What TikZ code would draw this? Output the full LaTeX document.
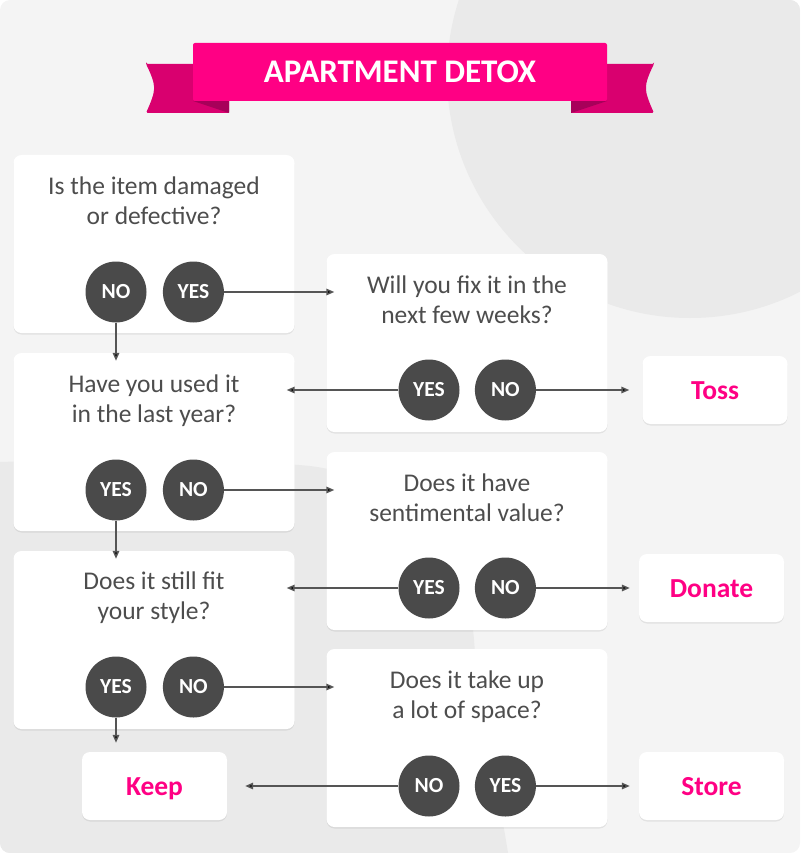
\documentclass[tikz,border=0pt]{standalone}
\usepackage{fontspec}
\setmainfont{Carlito}
\usepackage{tikz}
\usetikzlibrary{positioning}
\usetikzlibrary{arrows.meta}
\usetikzlibrary{calc,shadows}
\definecolor{pagebg}{HTML}{F4F4F4}
\definecolor{blobbg}{HTML}{EAEAEA}
\definecolor{inkgray}{HTML}{4D4D4D}
\definecolor{dotgray}{HTML}{4A4A4A}
\definecolor{linegray}{HTML}{555555}
\definecolor{detoxpink}{HTML}{FF0084}
\definecolor{ribbonend}{HTML}{D9006F}
\definecolor{ribbonfold}{HTML}{A8005A}
\tikzset{
  qbox/.style={rectangle,rounded corners=8pt,fill=white,inner sep=0pt,
    minimum width=281pt,minimum height=178pt,
    drop shadow={shadow xshift=0pt,shadow yshift=-1.5pt,opacity=0.07,fill=black}},
  endbox/.style={qbox,minimum width=145pt,minimum height=68pt,
    text=detoxpink,font=\fontsize{27.5}{27.5}\selectfont\bfseries,
    text height=20pt,text depth=2pt},
  qtext/.style={align=center,text=inkgray,anchor=base,
    font=\fontsize{25.5}{30}\selectfont},
  answer/.style={circle,fill=dotgray,minimum size=61pt,inner sep=0pt,
    text=white,font=\fontsize{21.5}{21.5}\selectfont\bfseries},
  flow/.style={draw=linegray,line width=1.5pt,-{Triangle[length=8pt,width=6.5pt]}},
}

\begin{document}
\begin{tikzpicture}[x=1pt,y=-1pt]
    \useasboundingbox (0,0) rectangle (800,853);
    % background
    \fill[pagebg,rounded corners=10pt] (0,0) rectangle (800,853);
    \begin{scope}
    \clip[rounded corners=10pt] (0,0) rectangle (800,853);
    \fill[blobbg] (690,75) circle (243);
    \fill[blobbg] (0,462) .. controls (120,458) and (250,460) .. (310,466)
        .. controls (420,480) and (468,560) .. (474,640)
        .. controls (480,720) and (500,800) .. (508,853) -- (0,853) -- cycle;
    \end{scope}

    % banner
    \fill[ribbonend,rounded corners=1.5pt] (146,64) -- (229,64) -- (229,113) -- (146,113)
        .. controls (151,102) and (154,94) .. (154,88) .. controls (154,82) and (151,74) .. cycle;
    \fill[ribbonend,rounded corners=1.5pt] (654,64) -- (571,64) -- (571,113) -- (654,113)
        .. controls (649,102) and (646,94) .. (646,88) .. controls (646,82) and (649,74) .. cycle;
    \fill[ribbonfold] (193,101) -- (229,101) -- (229,113) -- cycle;
    \fill[ribbonfold] (607,101) -- (571,101) -- (571,113) -- cycle;
    \node[rectangle,rounded corners=2pt,fill=detoxpink,minimum width=414pt,minimum height=58pt,
        text=white,font=\fontsize{33}{33}\selectfont\bfseries] (title) at (400,72) {APARTMENT DETOX};

    % question boxes
    \node[qbox] (damaged) at (154,244) {};
    \node[qbox] (fix) at (467,343) {};
    \node[qbox] (used) at (154,442) {};
    \node[qbox] (sentimental) at (467,541) {};
    \node[qbox] (style) at (154,640) {};
    \node[qbox] (space) at (467,738) {};

    % base anchor sits on the last line
    \node[qtext] (damaged text) at (154,224) {Is the item damaged\\or defective?};
    \node[qtext] (fix text) at (467,323) {Will you fix it in the\\next few weeks?};
    \node[qtext] (used text) at (154,422) {Have you used it\\in the last year?};
    \node[qtext] (sentimental text) at (467,521) {Does it have\\sentimental value?};
    \node[qtext] (style text) at (154,619) {Does it still fit\\your style?};
    \node[qtext] (space text) at (467,718) {Does it take up\\a lot of space?};

    % outcomes
    \node[endbox] (toss) at (715,390) {Toss};
    \node[endbox] (donate) at (711.5,588) {Donate};
    \node[endbox] (store) at (711.5,786) {Store};
    \node[endbox] (keep) at (154.5,786) {Keep};

    % answers
    \node[answer] (damaged no) at (116,292) {NO};
    \node[answer] (damaged yes) [right = 16pt of damaged no] {YES};
    \node[answer] (fix yes) at (429,390) {YES};
    \node[answer] (fix no) [right = 15pt of fix yes] {NO};
    \node[answer] (used yes) at (116,490) {YES};
    \node[answer] (used no) [right = 16pt of used yes] {NO};
    \node[answer] (sentimental yes) at (429,588) {YES};
    \node[answer] (sentimental no) [right = 15pt of sentimental yes] {NO};
    \node[answer] (style yes) at (116,687) {YES};
    \node[answer] (style no) [right = 16pt of style yes] {NO};
    \node[answer] (space no) at (429,786) {NO};
    \node[answer] (space yes) [right = 15pt of space no] {YES};

    \path[flow]
    (damaged no) edge[shorten >=-8pt] (damaged no |- used.north)
    (damaged yes) edge[shorten >=-8pt] (damaged yes -| fix.west)
    (fix yes) edge[shorten >=-8pt] (fix yes -| used.east)
    (fix no) edge[shorten >=13pt] (toss)
    (used yes) edge[shorten >=-8pt] (used yes |- style.north)
    (used no) edge[shorten >=-8pt] (used no -| sentimental.west)
    (sentimental yes) edge[shorten >=-8pt] (sentimental yes -| style.east)
    (sentimental no) edge[shorten >=9pt] (donate)
    (style yes) edge[shorten >=9pt] (style yes |- keep.north)
    (style no) edge[shorten >=-8pt] (style no -| space.west)
    (space no) edge[shorten >=18pt] (keep)
    (space yes) edge[shorten >=9pt] (store);
\end{tikzpicture}
\end{document}
